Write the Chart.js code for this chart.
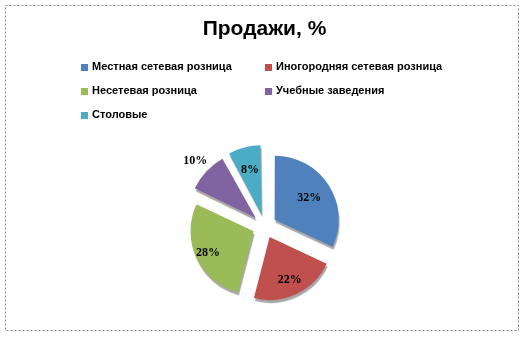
<!DOCTYPE html>
<html>
<head>
<meta charset="utf-8">
<script src="https://cdn.jsdelivr.net/npm/chart.js@4/dist/chart.umd.min.js"></script>
<style>
  html, body { margin: 0; padding: 0; background: #fff; }
  #wrap { position: relative; width: 529px; height: 337px; }
</style>
</head>
<body>
<div id="wrap"><canvas id="salesChart"></canvas></div>
<script>
// данные
const labels = ['Местная сетевая розница', 'Иногородняя сетевая розница', 'Несетевая розница', 'Учебные заведения', 'Столовые'];
const values = [32, 22, 28, 10, 8];
const colors = ['#4F81BD', '#C0504D', '#9BBB59', '#8064A2', '#4BACC6'];
// где ставить подпись (доля радиуса)
const labelRadius = [0.65, 0.75, 0.8, 1.32, 0.73];

/* рамка вокруг диаграммы */
const frame = {
    id: 'frame',
    beforeDraw(chart) {
        const ctx = chart.ctx;
        ctx.save();
        ctx.fillStyle = '#fff';
        ctx.fillRect(0, 0, chart.width, chart.height);
        ctx.strokeStyle = '#8a8a8a';
        ctx.setLineDash([2, 2]);
        ctx.lineWidth = 1;
        ctx.strokeRect(5.5, 5.5, 513, 325);
        ctx.restore();
    }
};

/* легенда в две колонки */
const gridLegend = {
    id: 'gridLegend',
    afterDraw(chart) {
        const ctx = chart.ctx;
        ctx.save();
        ctx.font = 'bold 11px "Liberation Sans", Arial, sans-serif';
        ctx.textBaseline = 'middle';
        labels.forEach((text, i) => {
            const col = i % 2;
            const row = Math.floor(i / 2);
            const x = col === 0 ? 81 : 265;
            const y = 67 + row * 24;
            ctx.fillStyle = colors[i];
            ctx.fillRect(x, y - 3, 7, 7);
            ctx.fillStyle = '#000';
            ctx.fillText(text, x + 11, y);
        });
        ctx.restore();
    }
};

/* тень для объёма */
const sliceShadow = {
    id: 'sliceShadow',
    beforeDatasetsDraw(chart) {
        const ctx = chart.ctx;
        ctx.save();
        ctx.shadowColor = 'rgba(0,0,0,0.35)';
        ctx.shadowOffsetX = 1;
        ctx.shadowOffsetY = 3;
        ctx.shadowBlur = 1;
    },
    afterDatasetsDraw(chart) {
        chart.ctx.restore();
    }
};

/* подписи процентов */
const pctLabels = {
    id: 'pctLabels',
    afterDatasetsDraw(chart) {
        const ctx = chart.ctx;
        const meta = chart.getDatasetMeta(0);
        ctx.save();
        ctx.font = 'bold 12px "Liberation Serif", "Times New Roman", serif';
        ctx.fillStyle = '#000';
        ctx.textAlign = 'center';
        ctx.textBaseline = 'middle';
        meta.data.forEach((arc, i) => {
            const p = arc.getProps(['x', 'y', 'startAngle', 'endAngle', 'outerRadius', 'options']);
            const mid = (p.startAngle + p.endAngle) / 2;
            const off = (arc.options.offset || 0) / 4;
            const d = off + p.outerRadius * labelRadius[i];
            ctx.fillText(values[i] + '%', p.x + Math.cos(mid) * d, p.y + Math.sin(mid) * d);
        });
        ctx.restore();
    }
};

const salesChart = new Chart(document.getElementById('salesChart'), {
    type: 'pie',
    data: {
        labels: labels,
        datasets: [{
            data: values,
            backgroundColor: colors,
            borderWidth: 0,
            offset: 48,
            hoverOffset: 48
        }]
    },
    options: {
        responsive: true,
        maintainAspectRatio: false,
        animation: false,
        layout: { padding: { bottom: 24, left: 0, right: 0 } },
        plugins: {
            legend: { display: false },
            tooltip: { enabled: false },
            title: {
                display: true,
                text: 'Продажи, %',
                color: '#000',
                font: { family: '"Liberation Sans", Arial, sans-serif', size: 21, weight: 'bold' },
                padding: { top: 17, bottom: 97 }
            }
        }
    },
    plugins: [frame, gridLegend, sliceShadow, pctLabels]
});
</script>
</body>
</html>
